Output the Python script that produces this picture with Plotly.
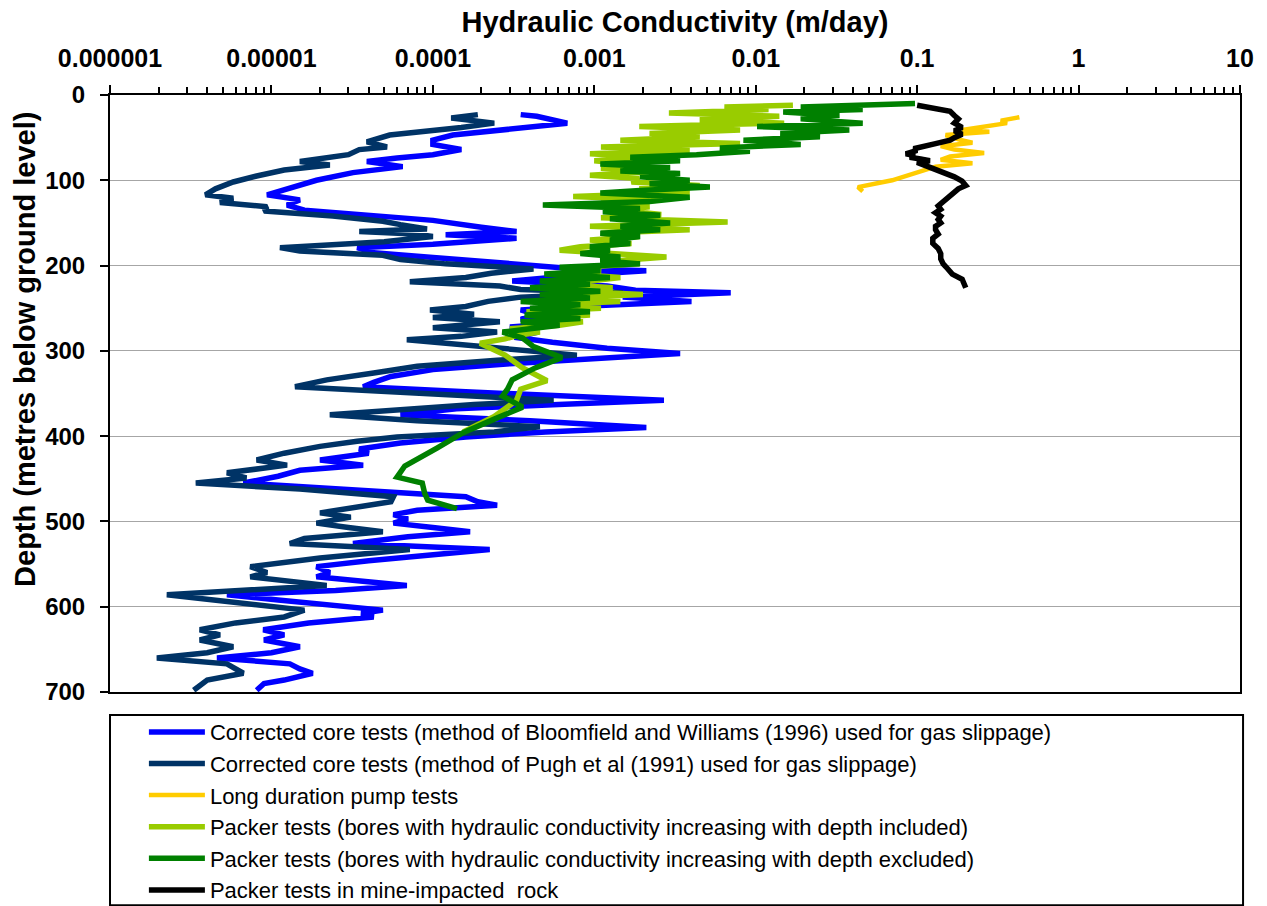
import plotly.graph_objects as go

# ---------------- data: depth (m below ground) and hydraulic conductivity K (m/day) ----------------
bloomfield_depth = [23, 25, 33, 37, 42, 47, 53, 58, 64, 70, 74, 78, 84, 91, 100, 108, 117, 123, 129, 135,
                    138, 147, 155, 160, 164, 168, 175, 179, 185, 192, 196, 203, 206, 211, 218, 224, 229, 232,
                    237, 242, 247, 252, 258, 263, 267, 272, 278, 284, 290, 297, 303, 309, 315, 322, 330, 337,
                    342, 348, 353, 358, 363, 368, 375, 382, 390, 395, 401, 408, 415, 420, 428, 434, 440, 447,
                    455, 462, 471, 477, 481, 487, 492, 497, 502, 507, 512, 518, 526, 533, 540, 546, 553, 560,
                    565, 570, 575, 581, 586, 592, 598, 604, 608, 612, 619, 627, 633, 639, 647, 654, 660, 667,
                    673, 678, 686, 690, 698]
bloomfield_k = [3.5e-4, 4.4e-4, 6.8e-4, 4.2e-4, 2.5e-4, 1.33e-4, 1.0e-4, 1.0e-4, 1.5e-4, 1.0e-4, 6e-5, 3.9e-5,
                6.5e-5, 3.2e-5, 1.9e-5, 1.36e-5, 9.4e-6, 1.5e-5, 1.25e-5, 1.6e-5, 2.7e-5, 1.0e-4, 2.0e-4,
                3.3e-4, 1.2e-4, 3.3e-4, 1.0e-4, 3.4e-5, 4.3e-5, 1.2e-4, 2.2e-4, 6.8e-4, 2.1e-3, 8e-4, 3.1e-4,
                1.2e-3, 1.8e-3, 7.0e-3, 1.5e-3, 4.0e-3, 1.0e-3, 3.5e-4, 4.5e-4, 3.5e-4, 6.8e-4, 3e-4, 4.5e-4,
                3.2e-4, 5.5e-4, 1.2e-3, 3.4e-3, 1.0e-3, 3.0e-4, 1.0e-4, 5.5e-5, 4.3e-5, 3.7e-5, 1.6e-4, 6e-4,
                2.7e-3, 6e-4, 1.4e-4, 6.3e-5, 4e-4, 2.1e-3, 5e-4, 1.6e-4, 6.3e-5, 3.5e-5, 4e-5, 2.0e-5,
                3.7e-5, 1.5e-5, 1.1e-5, 6.7e-6, 3e-5, 1.6e-4, 1.9e-4, 2.5e-4, 8e-5, 5.7e-5, 7e-5, 5.7e-5,
                1.0e-4, 1.7e-4, 7e-5, 3.2e-5, 2.25e-4, 8e-5, 4e-5, 1.9e-5, 2.3e-5, 1.9e-5, 3.5e-5, 6.9e-5,
                2.5e-5, 5.3e-6, 1.1e-5, 2.5e-5, 4.9e-5, 3.6e-5, 4.3e-5, 1.7e-5, 8.9e-6, 1.2e-5, 9e-6, 1.5e-5,
                1.0e-5, 4.6e-6, 1.3e-5, 1.5e-5, 1.8e-5, 1.2e-5, 9e-6, 8.1e-6]

pugh_depth = [23, 27, 33, 38, 47, 55, 61, 64, 70, 78, 82, 88, 95, 102, 110, 117, 121, 126, 131, 136, 142, 148,
              152, 157, 160, 163, 166, 172, 179, 183, 188, 193, 198, 204, 209, 214, 219, 224, 228, 232, 237,
              242, 248, 252, 257, 261, 266, 270, 273, 278, 283, 287, 295, 300, 305, 311, 318, 326, 334, 342,
              348, 353, 358, 363, 369, 375, 382, 389, 395, 401, 406, 412, 420, 428, 434, 443, 449, 455, 462,
              471, 477, 485, 490, 495, 502, 507, 512, 520, 526, 533, 543, 553, 560, 565, 575, 586, 592, 598,
              604, 612, 619, 627, 633, 639, 647, 654, 660, 667, 678, 686, 698]
pugh_k = [1.9e-4, 1.3e-4, 2.4e-4, 1.5e-4, 5.4e-5, 3.9e-5, 5.2e-5, 3.5e-5, 3.0e-5, 1.5e-5, 2.3e-5, 1.2e-5,
          8.1e-6, 5.8e-6, 4.5e-6, 3.9e-6, 5.8e-6, 4.8e-6, 9.4e-6, 9.0e-6, 2.4e-5, 4.9e-5, 6.3e-5, 9.2e-5,
          3.5e-5, 7.7e-5, 1.0e-4, 5.0e-5, 1.13e-5, 1.5e-5, 4.9e-5, 6.3e-5, 1.2e-4, 4.2e-4, 2.3e-4, 1.6e-4,
          7.2e-5, 2.6e-4, 3.5e-4, 1.5e-3, 3.5e-4, 2.2e-4, 1.6e-4, 9.6e-5, 1.8e-4, 1.0e-4, 2.6e-4, 1.4e-4,
          1.0e-4, 2.5e-4, 1.5e-4, 6.9e-5, 1.9e-4, 4.0e-4, 7.8e-4, 2.5e-4, 8e-5, 4.3e-5, 2.2e-5, 1.4e-5,
          6e-5, 2e-4, 5.6e-4, 1.8e-4, 6e-5, 2.3e-5, 8e-5, 4.6e-4, 2.4e-4, 6e-5, 3.4e-5, 2.0e-5, 1.2e-5,
          8.1e-6, 1.25e-5, 5.3e-6, 7e-6, 3.4e-6, 1.5e-5, 5.7e-5, 5.5e-5, 3.0e-5, 2.0e-5, 3.1e-5, 1.9e-5,
          3.0e-5, 4.9e-5, 1.6e-5, 1.3e-5, 7.2e-5, 2.0e-5, 7.4e-6, 9.4e-6, 7.4e-6, 2.2e-5, 2.25e-6, 4.3e-6,
          9e-6, 1.6e-5, 1.2e-5, 6e-6, 3.6e-6, 4.8e-6, 3.6e-6, 5.8e-6, 4e-6, 1.95e-6, 5.3e-6, 6.7e-6, 4e-6,
          3.3e-6]

pump_depth = [26, 30, 33, 37, 41, 43, 47, 52, 56, 60, 64, 68, 72, 76, 80, 84, 91, 100, 108, 113]
pump_k = [0.43, 0.33, 0.36, 0.25, 0.19, 0.28, 0.15, 0.18, 0.22, 0.14, 0.17, 0.26, 0.16, 0.14, 0.22, 0.13,
          0.10, 0.07, 0.043, 0.046]

packer_incl_depth = [12, 14, 17, 21, 25, 29, 33, 37, 41, 45, 49, 53, 57, 61, 65, 69, 73, 77, 82, 86, 90, 94,
                     98, 102, 106, 110, 114, 119, 123, 127, 131, 135, 140, 144, 149, 154, 158, 162, 166, 170,
                     174, 178, 182, 186, 190, 194, 198, 202, 206, 210, 214, 218, 222, 226, 230, 234, 238, 242,
                     246, 250, 254, 258, 262, 266, 270, 274, 278, 282, 286, 291, 305, 320, 335, 345, 358, 377,
                     395]
packer_incl_k = [1.7e-2, 6.4e-3, 1.2e-2, 2.9e-3, 1.4e-2, 4.5e-3, 1.5e-2, 1.9e-3, 8.0e-3, 2.2e-3, 4.5e-3,
                 1.45e-3, 8.0e-3, 1.1e-3, 3.9e-3, 9.4e-4, 2.2e-3, 1.0e-3, 1.9e-3, 1.1e-3, 2.2e-3, 9.4e-4,
                 1.9e-3, 1.7e-3, 4.5e-3, 1.9e-3, 3.9e-3, 7.4e-4, 2.6e-3, 1.1e-3, 2.2e-3, 1.45e-3, 2.6e-3,
                 1.1e-3, 6.7e-3, 9.4e-4, 3.9e-3, 1.1e-3, 1.9e-3, 9.4e-4, 1.7e-3, 8.2e-4, 6.1e-4, 1.45e-3,
                 2.8e-3, 1.45e-3, 1.9e-3, 8.2e-4, 1.1e-3, 7.1e-4, 1.45e-3, 9.4e-4, 6.1e-4, 1.3e-3, 7.1e-4,
                 2.0e-3, 6.1e-4, 1.45e-3, 4.6e-4, 1.1e-3, 3.8e-4, 9.4e-4, 4.6e-4, 8.5e-4, 6.1e-4, 3.0e-4,
                 4.6e-4, 3.3e-4, 2.8e-4, 1.96e-4, 2.8e-4, 3.6e-4, 5.1e-4, 3.5e-4, 3.3e-4, 2.4e-4, 1.54e-4]

packer_excl_depth = [10, 12, 14, 17, 20, 24, 28, 33, 37, 41, 45, 49, 53, 58, 62, 66, 70, 73, 77, 81, 85, 89,
                     92, 96, 100, 104, 108, 112, 115, 120, 125, 129, 133, 137, 141, 145, 150, 154, 158, 162,
                     166, 170, 174, 178, 182, 186, 190, 194, 198, 202, 206, 210, 214, 218, 222, 226, 230, 234,
                     238, 242, 246, 250, 254, 258, 262, 266, 270, 274, 278, 285, 295, 308, 320, 334, 345, 353,
                     366, 380, 396, 414, 435, 448, 455, 467, 475, 485]
packer_excl_k = [0.097, 4.4e-2, 1.9e-2, 4.6e-2, 1.48e-2, 3.3e-2, 1.9e-2, 4.6e-2, 1.02e-2, 3.8e-2, 1.42e-2,
                 2.5e-2, 8.4e-3, 1.9e-2, 6.0e-3, 9.2e-3, 4.3e-3, 1.67e-3, 3.4e-3, 1.09e-3, 2.95e-3, 1.45e-3,
                 3.4e-3, 1.92e-3, 3.9e-3, 2.2e-3, 5.2e-3, 1.92e-3, 1.09e-3, 3.9e-3, 2.2e-3, 4.8e-4, 1.92e-3,
                 1.13e-3, 2.56e-3, 1.25e-3, 2.95e-3, 1.45e-3, 2.56e-3, 1.09e-3, 1.92e-3, 1.25e-3, 1.67e-3,
                 9.4e-4, 1.25e-3, 8.2e-4, 1.45e-3, 1.09e-3, 1.92e-3, 6.1e-4, 1.09e-3, 4.9e-4, 1.25e-3, 4.6e-4,
                 9.4e-4, 4.0e-4, 1.09e-3, 4.6e-4, 9.4e-4, 3.5e-4, 8.2e-4, 4.0e-4, 9.4e-4, 3.7e-4, 8.2e-4,
                 3.5e-4, 6.1e-4, 4.0e-4, 2.7e-4, 3.6e-4, 4.2e-4, 6.3e-4, 4.3e-4, 3.1e-4, 2.9e-4, 2.7e-4,
                 3.6e-4, 2.4e-4, 1.54e-4, 1.06e-4, 6.7e-5, 6.0e-5, 8.6e-5, 8.9e-5, 9.3e-5, 1.41e-4]

mine_depth = [12, 15, 19, 24, 28, 33, 38, 42, 46, 50, 53, 57, 60, 63, 65, 67, 69, 71, 73, 75, 77, 79, 82,
              85, 88, 92, 96, 101, 106, 110, 114, 118, 122, 126, 130, 134, 138, 142, 146, 150, 154, 158, 163,
              168, 174, 180, 186, 192, 198, 204, 210, 216, 222, 226]
mine_k = [0.10, 0.13, 0.16, 0.17, 0.18, 0.17, 0.19, 0.17, 0.19, 0.17, 0.16, 0.13, 0.11, 0.095, 0.10, 0.088,
          0.085, 0.097, 0.09, 0.105, 0.12, 0.10, 0.11, 0.12, 0.13, 0.15, 0.17, 0.19, 0.20, 0.18, 0.17, 0.16,
          0.15, 0.145, 0.135, 0.14, 0.13, 0.14, 0.135, 0.14, 0.13, 0.13, 0.135, 0.125, 0.125, 0.135, 0.14,
          0.14, 0.145, 0.155, 0.165, 0.19, 0.195, 0.20]

series = [
    ("Corrected core tests (method of Bloomfield and Williams (1996) used for gas slippage)",
     bloomfield_depth, bloomfield_k, "#0000FF", 5.5),
    ("Corrected core tests (method of Pugh et al (1991) used for gas slippage)",
     pugh_depth, pugh_k, "#003366", 5.5),
    ("Long duration pump tests", pump_depth, pump_k, "#FFCC00", 4.5),
    ("Packer tests (bores with hydraulic conductivity increasing with depth included)",
     packer_incl_depth, packer_incl_k, "#99CC00", 5.5),
    ("Packer tests (bores with hydraulic conductivity increasing with depth excluded)",
     packer_excl_depth, packer_excl_k, "#008000", 5.5),
    ("Packer tests in mine-impacted  rock", mine_depth, mine_k, "#000000", 5.5),
]

k_ticks = [1e-6, 1e-5, 1e-4, 1e-3, 1e-2, 1e-1, 1, 10]
k_tick_labels = ["0.000001", "0.00001", "0.0001", "0.001", "0.01", "0.1", "1", "10"]
depth_ticks = [0, 100, 200, 300, 400, 500, 600, 700]

FONT = "Liberation Sans, Arial, sans-serif"

fig = go.Figure()
for name, d, k, color, w in series:
    fig.add_trace(go.Scatter(
        x=k, y=d, mode="lines", name=name,
        line=dict(color=color, width=w),
        hoverinfo="skip",
    ))

fig.update_layout(
    width=1267, height=906,
    margin=dict(l=110, r=27, t=95, b=214, autoexpand=False),
    paper_bgcolor="white", plot_bgcolor="white",
    font=dict(family=FONT, color="black"),
    showlegend=True,
    legend=dict(
        x=0.03, xanchor="left", y=-0.032, yanchor="top",
        bgcolor="rgba(0,0,0,0)", borderwidth=0,
        font=dict(family=FONT, size=22, color="black"),
        itemwidth=56, tracegroupgap=0,
    ),
    # frame around the legend block
    shapes=[dict(
        type="rect", xref="paper", yref="paper",
        x0=0.0, x1=1.0027, y0=-0.0385, y1=-0.357,
        line=dict(color="black", width=2), fillcolor="rgba(0,0,0,0)", layer="above",
    )],
    # depth axis title
    annotations=[dict(
        text="Depth (metres below ground level)", textangle=-90,
        xref="paper", yref="paper", x=-0.0752, y=0.573,
        xanchor="center", yanchor="middle", showarrow=False,
        font=dict(family=FONT, size=29, weight="bold", color="black"),
    )],
)

fig.update_xaxes(
    type="log", side="top", range=[-6, 1],
    tickmode="array", tickvals=k_ticks, ticktext=k_tick_labels,
    tickfont=dict(family=FONT, size=25, weight="bold"),
    ticks="outside", ticklen=8, tickwidth=1.5, tickcolor="black",
    ticklabelstandoff=8,
    minor=dict(dtick="D1", ticks="outside", ticklen=6, tickwidth=1.5, tickcolor="black", showgrid=False),
    showline=True, linecolor="black", linewidth=2, mirror=True,
    showgrid=False, zeroline=False,
    title=dict(text="Hydraulic Conductivity (m/day)",
               font=dict(family=FONT, size=29, weight="bold"), standoff=3),
)

fig.update_yaxes(
    range=[700, 0], tickmode="array", tickvals=depth_ticks,
    tickfont=dict(family=FONT, size=24, weight="bold"),
    ticks="outside", ticklen=8, tickwidth=2, tickcolor="black",
    ticklabelstandoff=10,
    showline=True, linecolor="black", linewidth=2, mirror=True,
    showgrid=True, gridcolor="#A6A6A6", gridwidth=1, zeroline=False,
)

fig.write_html("out.html")
